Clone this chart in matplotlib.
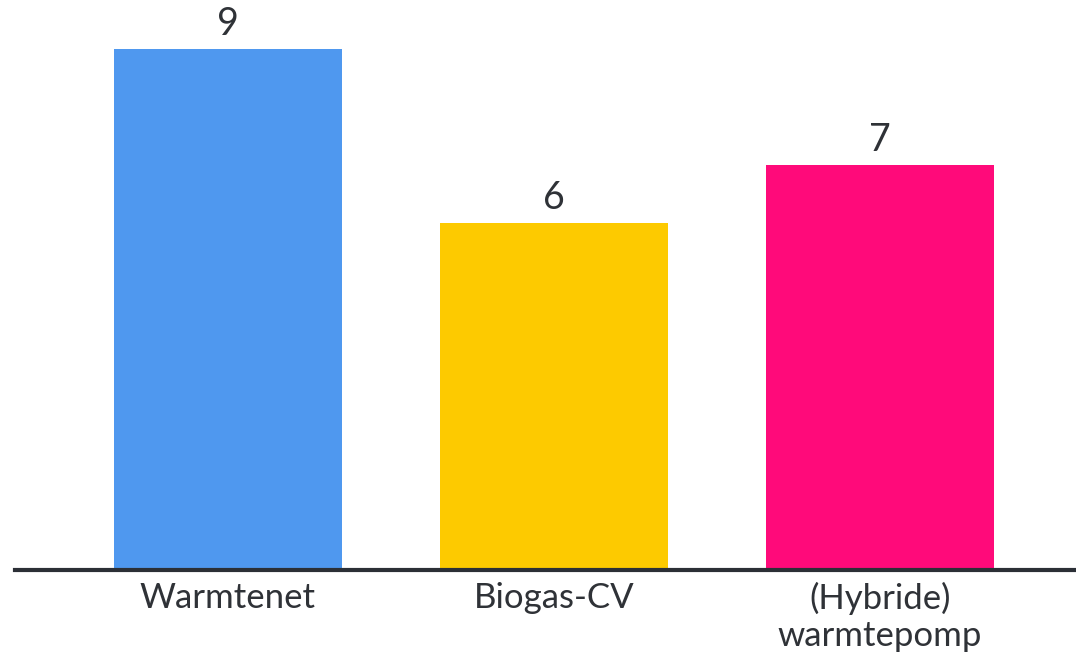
import matplotlib
matplotlib.use("Agg")
import matplotlib.pyplot as plt

categories = ["Warmtenet", "Biogas-CV", "(Hybride)\nwarmtepomp"]
values = [9, 6, 7]
colors = ["#4f98ef", "#fdca00", "#ff0a7a"]

plt.rcParams['font.family'] = ['Lato', 'DejaVu Sans']
text_color = "#2f3237"

fig = plt.figure(figsize=(10.76, 6.57), dpi=100)
ax = fig.add_axes([15/1076, (657-569.5)/657, 1 - 15/1076, 569.5/657])
x = list(range(len(categories)))
bars = ax.bar(x, values, width=0.7, color=colors, zorder=2)
ax.set_xlim(-0.653, 2.601)
ax.set_ylim(0, 569.5/57.8)

for xi, v in zip(x, values):
    ax.annotate(str(v), (xi, v), xytext=(0, 5), textcoords="offset points",
                ha="center", va="bottom", fontsize=27, color=text_color)

ax.set_xticks(x)
ax.set_xticklabels(categories, fontsize=25, color=text_color, linespacing=1.2)
ax.tick_params(axis="x", length=0, pad=9)
ax.set_yticks([])
for s in ["top", "right", "left"]:
    ax.spines[s].set_visible(False)
ax.spines["bottom"].set_color("#2b2f36")
ax.spines["bottom"].set_linewidth(3)
ax.spines["bottom"].set_zorder(3)

fig.savefig("out.png", dpi=100)
